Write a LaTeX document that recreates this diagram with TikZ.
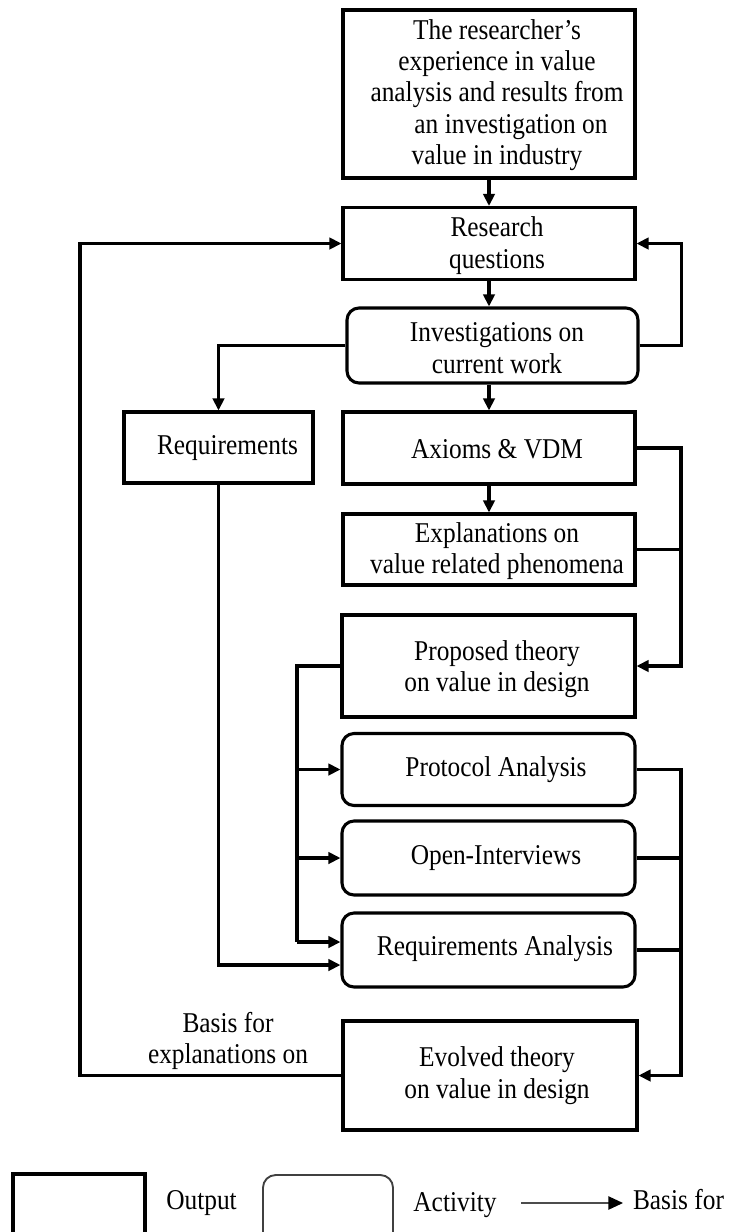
\documentclass[tikz,border=0pt]{standalone}
\usepackage{fontspec}
\setmainfont{Liberation Serif}[FakeStretch=0.885]
\usetikzlibrary{arrows.meta,calc}

\begin{document}
\begin{tikzpicture}[x=0.75pt,y=-0.75pt,
  every node/.style={font=\fontsize{21.5}{23.5}\selectfont},
  outbox/.style={draw, line width=2.3pt, inner sep=0pt},
  actbox/.style={outbox, rounded corners=9pt},
  lbl/.style={align=center, inner sep=0pt},
  bus/.style={draw, line width=2.3pt},
  link/.style={bus, -{Triangle[length=9pt,width=8.5pt]}},
]
\clip (0,0) rectangle (729,1232);

% outputs and activities
\node[outbox, minimum width=219pt, minimum height=126pt] (b1) at (489,94) {};
\node[lbl] (b1t) at (497,95) {The researcher’s\\experience in value\\analysis and results from\\\hspace*{21pt}an investigation on\\value in industry};

\node[outbox, minimum width=219pt, minimum height=54pt] (rq) at (489,243.5) {};
\node[lbl] (rqt) at (497,245.5) {Research\\questions};

\node[actbox, minimum width=218.25pt, minimum height=56.25pt] (inv) at (492.5,345.5) {};
\node[lbl] (invt) at (497,348) {Investigations on\\current work};

\node[outbox, minimum width=141.75pt, minimum height=53.25pt] (req) at (218.5,447.5) {};
\node[lbl] (reqt) at (227.5,448) {Requirements};

\node[outbox, minimum width=219pt, minimum height=54pt] (ax) at (489,448) {};
\node[lbl] (axt) at (497,449) {Axioms \& VDM};

\node[outbox, minimum width=219pt, minimum height=53.25pt] (ex) at (489,549.5) {};
\node[lbl] (ext) at (497,551) {Explanations on\\value related phenomena};

\node[outbox, minimum width=219.75pt, minimum height=76.5pt] (pr) at (488.5,666) {};
\node[lbl] (prt) at (497,669) {Proposed theory\\on value in design};

\node[actbox, minimum width=219.75pt, minimum height=54pt] (pa) at (488.5,769.5) {};
\node[lbl] (pat) at (496,770) {Protocol Analysis};

\node[actbox, minimum width=219.75pt, minimum height=55.5pt] (oi) at (488.5,858) {};
\node[lbl] (oit) at (496,858) {Open-Interviews};

\node[actbox, minimum width=219.75pt, minimum height=55.5pt] (ra) at (488.5,950) {};
\node[lbl] (rat) at (495,949) {Requirements Analysis};

\node[outbox, minimum width=220.5pt, minimum height=81.75pt] (ev) at (490,1075.5) {};
\node[lbl] (evt) at (497,1075.5) {Evolved theory\\on value in design};

\node[lbl] (fb) at (228,1041) {Basis for\\explanations on};

% bus lines
\coordinate (rbus1) at (681,0);
\coordinate (rbus2) at (681,0);
\coordinate (lbus) at (297,942);
\coordinate (rain) at (0,965);
\coordinate (lloop) at (80,0);

% connectors
\path[link] (b1) -- (rq);
\path[link] (rq.south) -- (rq.south |- inv.north);
\path[link] (inv.east) -- ++(42,0) |- (rq.east);
\path[link] (inv.west) -| (req.north);
\path[link] (ax.north |- inv.south) -- (ax.north);
\path[link] (ax) -- (ex);
\path[link] (ax.east) -- (ax.east -| rbus1) |- (pr.east);
\path[bus] (ex.east) -- (ex.east -| rbus1);

\path[bus] (pr.west) -| (lbus);
\path[link] (lbus) -- (lbus -| ra.west);
\path[link] (lbus |- pa.west) -- (pa.west);
\path[link] (lbus |- oi.west) -- (oi.west);
\path[link] (req.south) |- (rain -| ra.west);

\path[link] (pa.east) -| (rbus2 |- ev.east) -- (ev.east);
\path[bus] (oi.east) -- (oi.east -| rbus2);
\path[bus] (ra.east) -- (ra.east -| rbus2);

\path[link] (ev.west) -| (lloop |- rq.west) -- (rq.west);

% legend
\node[outbox, minimum width=99pt, minimum height=54pt] (lgout) at (79,1210) {};
\node[inner sep=0pt] (lgoutt) at (201.5,1203) {Output};
\node[draw=black!75, line width=1.4pt, rounded corners=9.5pt, inner sep=0pt,
      minimum width=97.5pt, minimum height=54pt] (lgact) at (328,1211) {};
\node[inner sep=0pt] (lgactt) at (455,1205) {Activity};
\node[inner sep=0pt] (lgbasis) at (678.5,1200) {Basis for};
\coordinate (lgA) at (521,1203);
\coordinate (lgB) at (623,1203);
\draw[black!70, line width=1.1pt, -{Triangle[length=11pt,width=10pt,color=black]}] (lgA) -- (lgB);
\end{tikzpicture}
\end{document}
